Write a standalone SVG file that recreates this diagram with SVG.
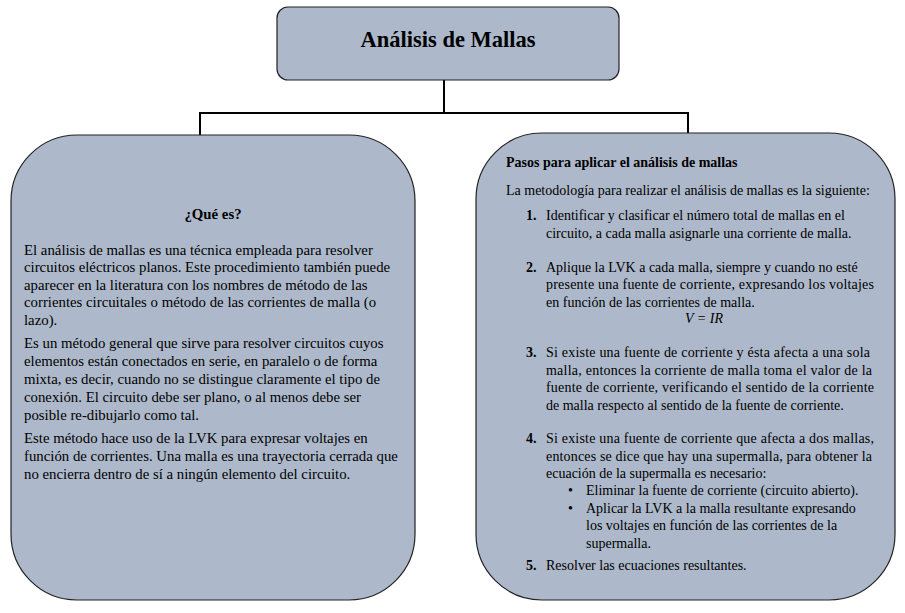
<svg xmlns="http://www.w3.org/2000/svg" width="905" height="613" viewBox="0 0 905 613">
<style>
.box{fill:#ADB9CA;stroke:#222;stroke-width:1.2}
.t{font-family:'Liberation Serif','DejaVu Serif',serif;font-size:14.8px;fill:#000}
.r{font-size:14px}
.b{font-weight:bold}
.c{stroke:#000;stroke-width:2;fill:none}
</style>
<rect width="905" height="613" fill="#fff"/>
<g id="connectors">
<path class="c" d="M444,80 V113 M200,113 H688 M200,112 V135 M688,112 V133"/>
</g>
<g id="title">
<rect class="box" x="277" y="7" width="342" height="73" rx="11"/>
<text class="t b" x="448" y="47" text-anchor="middle" style="font-size:22.5px">Análisis de Mallas</text>
</g>
<g id="que-es">
<rect class="box" x="11" y="135" width="404" height="465" rx="66"/>
<text class="t b" x="213" y="219" text-anchor="middle">¿Qué es?</text>
<text class="t" x="24" y="255">El análisis de mallas es una técnica empleada para resolver</text>
<text class="t" x="24" y="272">circuitos eléctricos planos. Este procedimiento también puede</text>
<text class="t" x="24" y="290">aparecer en la literatura con los nombres de método de las</text>
<text class="t" x="24" y="307">corrientes circuitales o método de las corrientes de malla (o</text>
<text class="t" x="24" y="325">lazo).</text>
<text class="t" x="24" y="348">Es un método general que sirve para resolver circuitos cuyos</text>
<text class="t" x="24" y="366">elementos están conectados en serie, en paralelo o de forma</text>
<text class="t" x="24" y="384">mixta, es decir, cuando no se distingue claramente el tipo de</text>
<text class="t" x="24" y="402">conexión. El circuito debe ser plano, o al menos debe ser</text>
<text class="t" x="24" y="420">posible re-dibujarlo como tal.</text>
<text class="t" x="24" y="443">Este método hace uso de la LVK para expresar voltajes en</text>
<text class="t" x="24" y="461">función de corrientes. Una malla es una trayectoria cerrada que</text>
<text class="t" x="24" y="479">no encierra dentro de sí a ningún elemento del circuito.</text>
</g>
<g id="pasos">
<rect class="box" x="476" y="133" width="419" height="467" rx="66"/>
<text class="t r b" x="506" y="167">Pasos para aplicar el análisis de mallas</text>
<text class="t r" x="506" y="195">La metodología para realizar el análisis de mallas es la siguiente:</text>
<text class="t r b" x="526" y="220">1.</text>
<text class="t r" x="546" y="220">Identificar y clasificar el número total de mallas en el</text>
<text class="t r" x="546" y="238">circuito, a cada malla asignarle una corriente de malla.</text>
<text class="t r b" x="526" y="272">2.</text>
<text class="t r" x="546" y="272">Aplique la LVK a cada malla, siempre y cuando no esté</text>
<text class="t r" x="546" y="289" textLength="328" lengthAdjust="spacing">presente una fuente de corriente, expresando los voltajes</text>
<text class="t r" x="546" y="307">en función de las corrientes de malla.</text>
<text class="t r" x="704" y="323" text-anchor="middle" font-style="italic">V = IR</text>
<text class="t r b" x="526" y="357">3.</text>
<text class="t r" x="546" y="357" textLength="324" lengthAdjust="spacing">Si existe una fuente de corriente y ésta afecta a una sola</text>
<text class="t r" x="546" y="375" textLength="326" lengthAdjust="spacing">malla, entonces la corriente de malla toma el valor de la</text>
<text class="t r" x="546" y="392" textLength="328" lengthAdjust="spacing">fuente de corriente, verificando el sentido de la corriente</text>
<text class="t r" x="546" y="410">de malla respecto al sentido de la fuente de corriente.</text>
<text class="t r b" x="526" y="443">4.</text>
<text class="t r" x="546" y="443" textLength="328" lengthAdjust="spacing">Si existe una fuente de corriente que afecta a dos mallas,</text>
<text class="t r" x="546" y="461" textLength="326" lengthAdjust="spacing">entonces se dice que hay una supermalla, para obtener la</text>
<text class="t r" x="546" y="478">ecuación de la supermalla es necesario:</text>
<text class="t r" x="568" y="495">•</text>
<text class="t r" x="586" y="495">Eliminar la fuente de corriente (circuito abierto).</text>
<text class="t r" x="568" y="513">•</text>
<text class="t r" x="586" y="513">Aplicar la LVK a la malla resultante expresando</text>
<text class="t r" x="586" y="530">los voltajes en función de las corrientes de la</text>
<text class="t r" x="586" y="548">supermalla.</text>
<text class="t r b" x="526" y="570">5.</text>
<text class="t r" x="546" y="570">Resolver las ecuaciones resultantes.</text>
</g>
</svg>
